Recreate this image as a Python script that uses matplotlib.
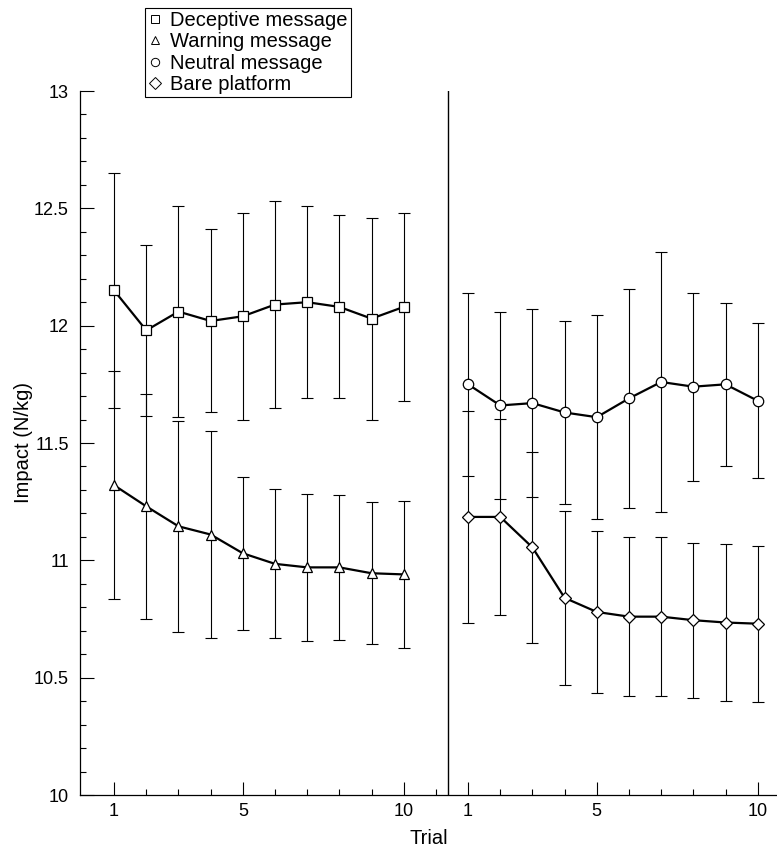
import matplotlib
matplotlib.use("Agg")
import matplotlib.pyplot as plt
from matplotlib.lines import Line2D
import numpy as np

plt.rcParams["font.family"] = ["Liberation Sans", "DejaVu Sans"]

# %% data
trials = np.arange(1, 11)
block_offset = 11  # second block drawn to the right of the divider

deceptive_mean = [12.15, 11.98, 12.06, 12.02, 12.04, 12.09, 12.10, 12.08, 12.03, 12.08]
deceptive_sd = [0.50, 0.365, 0.45, 0.39, 0.44, 0.44, 0.41, 0.39, 0.43, 0.40]

warning_mean = [11.32, 11.23, 11.145, 11.11, 11.03, 10.985, 10.97, 10.97, 10.945, 10.94]
warning_sd = [0.485, 0.48, 0.45, 0.442, 0.325, 0.318, 0.312, 0.308, 0.302, 0.313]

neutral_mean = [11.75, 11.66, 11.67, 11.63, 11.61, 11.69, 11.76, 11.74, 11.75, 11.68]
neutral_sd = [0.39, 0.40, 0.40, 0.39, 0.435, 0.467, 0.553, 0.40, 0.348, 0.33]

bare_mean = [11.185, 11.185, 11.055, 10.84, 10.78, 10.76, 10.76, 10.745, 10.735, 10.73]
bare_sd = [0.452, 0.416, 0.408, 0.37, 0.345, 0.34, 0.34, 0.33, 0.335, 0.333]

labels = ["Deceptive message", "Warning message", "Neutral message", "Bare platform"]

# %% figure
fig = plt.figure(figsize=(7.77, 8.52), dpi=100)
ax = fig.add_axes([80 / 777, 57 / 852, 697 / 777, 704 / 852])

series = [
    (trials, deceptive_mean, deceptive_sd, "s", 7),
    (trials, warning_mean, warning_sd, "^", 7.5),
    (trials + block_offset, neutral_mean, neutral_sd, "o", 7.5),
    (trials + block_offset, bare_mean, bare_sd, "D", 6),
]

for x, m, sd, mk, ms in series:
    ax.errorbar(x, m, yerr=sd, fmt="none", ecolor="black", elinewidth=0.8,
                capsize=4.3, capthick=0.8, zorder=2)
    ax.plot(x, m, color="black", lw=1.6, marker=mk, ms=ms, mfc="white",
            mec="black", mew=0.9, zorder=3)

ax.axvline(11.38, color="black", lw=1.0)

ax.set_xlim(-0.06, 21.6)
ax.set_ylim(10, 13)

major_x = [1, 5, 10, 1 + block_offset, 5 + block_offset, 10 + block_offset]
ax.set_xticks(major_x)
ax.set_xticklabels(["1", "5", "10", "1", "5", "10"])
minor_x = [t for t in list(range(1, 12)) + list(range(12, 22)) if t not in major_x]
ax.set_xticks(minor_x, minor=True)

ax.set_yticks(np.arange(10, 13.01, 0.5))
ax.set_yticklabels(["10", "10.5", "11", "11.5", "12", "12.5", "13"])
ax.set_yticks(np.arange(10, 13.01, 0.1), minor=True)

ax.tick_params(which="both", direction="in", width=0.8, labelsize=13)
ax.tick_params(axis="x", which="major", length=9.5, pad=6)
ax.tick_params(axis="x", which="minor", length=4.5)
ax.tick_params(axis="y", which="major", length=10, pad=8)
ax.tick_params(axis="y", which="minor", length=4.5)

for side in ["top", "right"]:
    ax.spines[side].set_visible(False)
for side in ["left", "bottom"]:
    ax.spines[side].set_linewidth(0.9)

ax.set_xlabel("Trial", fontsize=14.5, labelpad=6)
ax.set_ylabel("Impact (N/kg)", fontsize=14.5)
ax.yaxis.set_label_coords(-0.068, 0.5)

handles = [Line2D([], [], ls="none", marker=mk, ms=6, mfc="white", mec="black", mew=0.7)
           for mk in ["s", "^", "o", "D"]]
leg = fig.legend(handles, labels, loc="upper left",
                 bbox_to_anchor=(145 / 777, 1 - 8 / 852), fontsize=14.5,
                 frameon=True, fancybox=False, framealpha=1, edgecolor="black",
                 handlelength=0.7, handletextpad=0.4, labelspacing=0.12,
                 borderpad=0.15, borderaxespad=0)
leg.get_frame().set_linewidth(0.8)

fig.savefig("out.png", dpi=100)
